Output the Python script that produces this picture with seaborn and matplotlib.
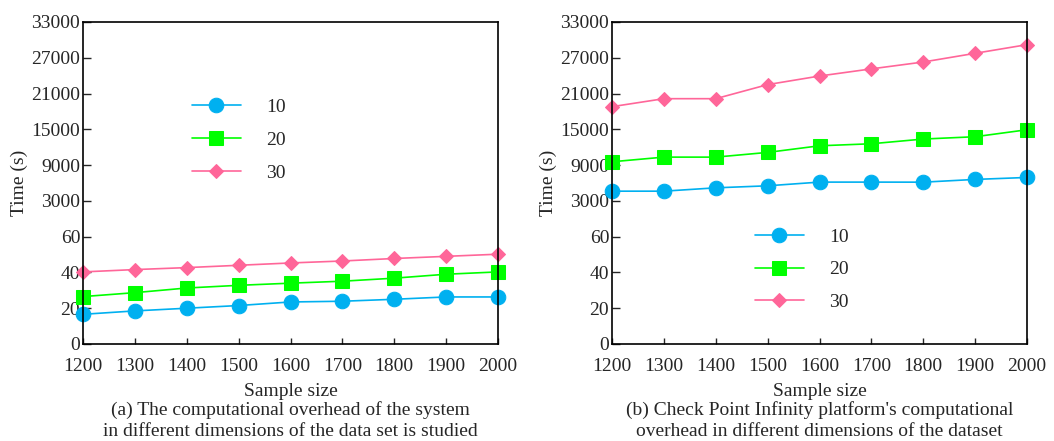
import numpy as np
import pandas as pd
import matplotlib
matplotlib.use('Agg')
import matplotlib.pyplot as plt
import seaborn as sns

# Data
sample_size = [1200, 1300, 1400, 1500, 1600, 1700, 1800, 1900, 2000]
dims = ['10', '20', '30']

sys_10 = [16.6, 18.5, 20.0, 21.5, 23.5, 23.9, 25.0, 26.3, 26.3]
sys_20 = [26.5, 28.7, 31.3, 32.8, 34.0, 35.1, 36.8, 39.0, 40.3]
sys_30 = [40.3, 41.6, 42.7, 44.0, 45.3, 46.4, 47.8, 49.0, 50.2]

cp_10 = [4630, 4630, 5190, 5530, 6150, 6150, 6140, 6600, 6930]
cp_20 = [9560, 10340, 10340, 11130, 12240, 12580, 13370, 13760, 14930]
cp_30 = [18800, 20140, 20140, 22500, 23940, 25140, 26290, 27750, 29200]

ytick_vals = [0, 20, 40, 60, 3000, 9000, 15000, 21000, 27000, 33000]

captions = ["(a) The computational overhead of the system\nin different dimensions of the data set is studied",
            "(b) Check Point Infinity platform's computational\noverhead in different dimensions of the dataset"]

colors = {'10': '#00B0F0', '20': '#00FF00', '30': '#FF6699'}
markers = {'10': 'o', '20': 's', '30': 'D'}
msize = {'10': 10.5, '20': 9.5, '30': 7.5}

sns.set_style('white')
plt.rcParams['font.family'] = ['Liberation Serif', 'DejaVu Serif']
plt.rcParams['font.size'] = 14

# piecewise linear scale: each tick gets equal spacing
tick_pos = np.arange(len(ytick_vals), dtype=float)
vals = np.array(ytick_vals, dtype=float)


def fwd(v):
    return np.interp(v, vals, tick_pos)


def inv(p):
    return np.interp(p, tick_pos, vals)


def make_df(a, b, c):
    rows = []
    for d, s in zip(dims, [a, b, c]):
        for x, y in zip(sample_size, s):
            rows.append({'Sample size': x, 'Time (s)': y, 'dim': d})
    return pd.DataFrame(rows)


fig = plt.figure(figsize=(10.54, 4.41), dpi=100)
W, H = 1054, 441
ax1 = fig.add_axes([83 / W, 1 - 344 / H, 415 / W, 322 / H])
ax2 = fig.add_axes([612 / W, 1 - 344 / H, 415 / W, 322 / H])

datasets = [make_df(sys_10, sys_20, sys_30), make_df(cp_10, cp_20, cp_30)]
leg_pos = [(0.263, 0.762), (0.345, 0.36)]

for ax, df, cap, lp in zip([ax1, ax2], datasets, captions, leg_pos):
    ax.set_yscale('function', functions=(fwd, inv))
    for d in dims:
        sub = df[df['dim'] == d]
        sns.lineplot(data=sub, x='Sample size', y='Time (s)', ax=ax,
                     color=colors[d], marker=markers[d], markersize=msize[d],
                     markeredgecolor=colors[d], linewidth=1.2, label=d)
    ax.set_ylim(0, 33000)
    ax.set_xlim(1200, 2000)
    ax.set_yticks(ytick_vals)
    ax.set_yticklabels([str(v) for v in ytick_vals])
    ax.set_xticks(sample_size)
    ax.yaxis.set_minor_locator(matplotlib.ticker.NullLocator())
    ax.tick_params(axis='y', direction='in', length=6, width=1, pad=2, left=True)
    ax.tick_params(axis='x', direction='in', length=4, width=1, pad=10, bottom=True)
    for sp in ax.spines.values():
        sp.set_color('black')
        sp.set_linewidth(1.2)
    ax.set_xlabel('Sample size', labelpad=6)
    ax.set_ylabel('Time (s)', labelpad=2)
    for a in ax.lines:
        a.set_clip_on(False)
    ax.legend(loc='upper left', bbox_to_anchor=lp, frameon=False,
              handlelength=2.5, handletextpad=1.3, labelspacing=0.78,
              borderpad=0, borderaxespad=0)
    ax.text(0.5, -0.178, cap, transform=ax.transAxes, ha='center', va='top',
            linespacing=1.3)

plt.savefig('out.png', dpi=100)
